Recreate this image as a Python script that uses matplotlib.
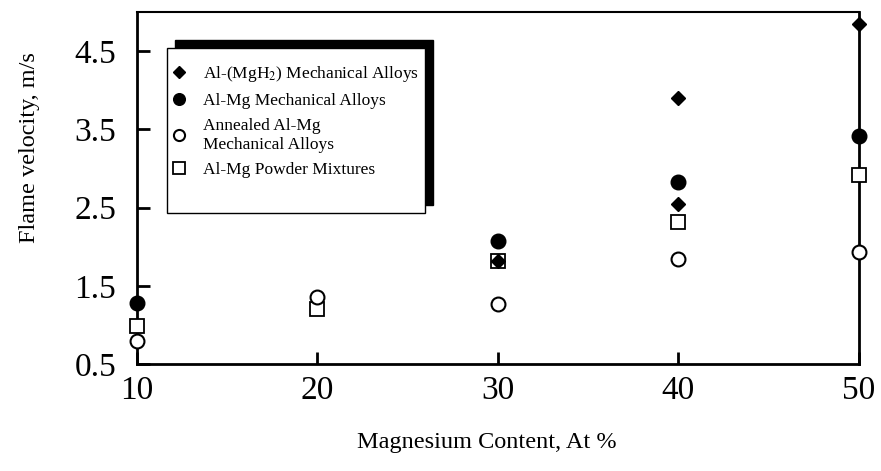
import matplotlib
matplotlib.use("Agg")
import matplotlib.pyplot as plt
from matplotlib.patches import Rectangle

plt.rcParams['font.family'] = ['Liberation Serif', 'DejaVu Serif']
plt.rcParams['mathtext.fontset'] = 'stix'

# data
x_mgh2 = [30, 40, 40, 50]
y_mgh2 = [1.82, 3.90, 2.55, 4.85]
x_mech = [10, 30, 40, 50]
y_mech = [1.28, 2.07, 2.83, 3.42]
x_anneal = [10, 20, 30, 40, 50]
y_anneal = [0.79, 1.36, 1.27, 1.84, 1.93]
x_powder = [10, 20, 30, 40, 50]
y_powder = [0.99, 1.20, 1.82, 2.32, 2.91]

labels = ['Al-(MgH$_2$) Mechanical Alloys', 'Al-Mg Mechanical Alloys',
          'Annealed Al-Mg\nMechanical Alloys', 'Al-Mg Powder Mixtures']
xticks = [10, 20, 30, 40, 50]
yticks = [0.5, 1.5, 2.5, 3.5, 4.5]

fig = plt.figure(figsize=(8.81, 4.71), dpi=100)
ax = fig.add_axes([0.1555, 0.2272, 0.8195, 0.7473])

# drawing order: squares, open circles, filled circles, diamonds
h4, = ax.plot(x_powder, y_powder, 's', ms=10, mfc='white', mec='black', mew=1.3,
              clip_on=False, zorder=3)
h3, = ax.plot(x_anneal, y_anneal, 'o', ms=10, mfc='white', mec='black', mew=1.5,
              clip_on=False, zorder=4)
h2, = ax.plot(x_mech, y_mech, 'o', ms=10.5, color='black', clip_on=False, zorder=5)
h1, = ax.plot(x_mgh2, y_mgh2, 'D', ms=7.5, color='black', clip_on=False, zorder=6)

ax.set_xlim(10, 50)
ax.set_ylim(0.5, 5.0)
ax.set_xticks(xticks)
ax.set_yticks(yticks)
ax.tick_params(direction='in', length=9, width=2, labelsize=24)
ax.tick_params(axis='x', pad=8)
ax.tick_params(axis='y', pad=15)
for s in ax.spines.values():
    s.set_linewidth(2)
ax.spines['top'].set_linewidth(1.5)

ax.set_xlabel('Magnesium Content, At %', fontsize=17.5)
ax.xaxis.set_label_coords(0.485, -0.193)
ax.set_ylabel('Flame velocity, m/s', fontsize=17.5)
ax.yaxis.set_label_coords(-0.134, 0.616)

# legend box with the heavy shadow up and to the right
bx, by, bw, bh = 0.0416, 0.429, 0.357, 0.469
ax.add_patch(Rectangle((bx + 0.011, by + 0.023), bw, bh, transform=ax.transAxes,
                       facecolor='black', edgecolor='black', zorder=7))
ax.add_patch(Rectangle((bx, by), bw, bh, transform=ax.transAxes,
                       facecolor='white', edgecolor='black', lw=1, zorder=8))
leg = ax.legend([h1, h2, h3, h4], labels, loc='upper left',
                bbox_to_anchor=(0.0466, 0.852), borderaxespad=0, borderpad=0,
                frameon=False, fontsize=12.5, handlelength=1, handletextpad=0.85,
                labelspacing=0.52, markerscale=0.8)
leg.set_zorder(9)

fig.savefig('out.png', dpi=100)
